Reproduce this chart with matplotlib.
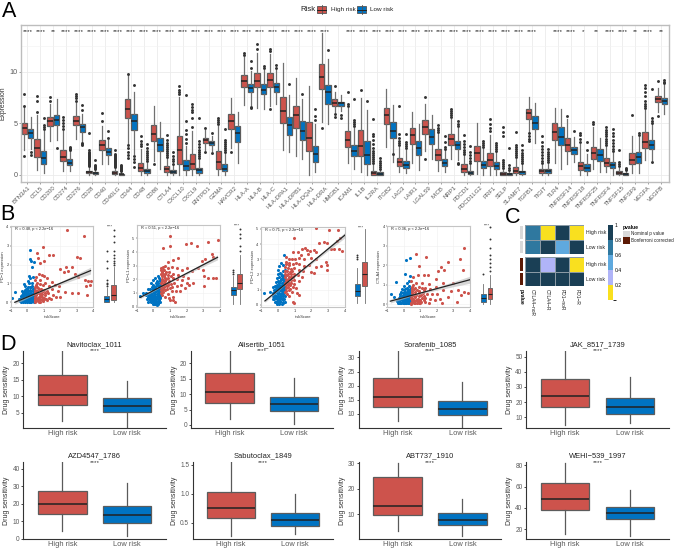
import numpy as np
import matplotlib
matplotlib.use("Agg")
import matplotlib.pyplot as plt
from matplotlib.colors import ListedColormap, BoundaryNorm
from matplotlib.patches import Rectangle
from matplotlib.lines import Line2D
from matplotlib.cm import ScalarMappable

plt.rcParams["font.family"] = ["Liberation Sans", "DejaVu Sans"]

W, H = 676, 549
RED = "#CD534C"
BLUE = "#0073C2"
GREY_TXT = "#5A5A5A"

# ---- panel A ----
genes = ["BTN3A1", "CCL5", "CD200", "CD274", "CD276", "CD28", "CD40", "CD40LG", "CD44", "CD48",
         "CD86", "CTLA4", "CXCL10", "CXCL9", "ENTPD1", "GZMA", "HAVCR2", "HLA-A", "HLA-B", "HLA-C",
         "HLA-DPA1", "HLA-DPB1", "HLA-DQA1", "HLA-DRA", "HMGB1", "ICAM1", "IL1B", "IL2RA", "ITGB2", "LAG3",
         "LAIR1", "LGALS9", "MICB", "NRP1", "PDCD1", "PDCD1LG2", "PRF1", "SELP", "SLAMF7", "TGFB1",
         "TIGIT", "TLR4", "TNFRSF14", "TNFRSF18", "TNFRSF25", "TNFRSF4", "TNFSF15", "TNFSF9", "VEGFA", "VEGFB"]
signif = ["****", "****", "**", "****", "****", "****", "****", "****", "****", "****",
          "****", "****", "****", "****", "****", "****", "****", "****", "****", "****",
          "****", "****", "****", "****", "", "****", "****", "****", "****", "****",
          "****", "****", "****", "****", "****", "****", "****", "****", "****", "****",
          "", "****", "****", "*", "**", "****", "****", "**", "****", "**"]

# q1, median, q3, whisker low, whisker high
high_box = [(3.9, 4.5, 5.0, 2.4, 6.6), (1.7, 2.6, 3.5, 0.4, 5.8), (4.7, 5.2, 5.6, 3.3, 6.9), (1.3, 1.7, 2.4, 0.3, 4.2),
            (4.8, 5.2, 5.7, 3.5, 7.0), (0.1, 0.2, 0.35, 0, 0.7), (2.4, 2.9, 3.4, 1.0, 4.7), (0.05, 0.15, 0.3, 0, 0.6),
            (5.5, 6.4, 7.3, 3.0, 9.7), (0.3, 0.6, 1.15, 0, 2.5), (3.3, 3.95, 4.8, 1.3, 6.7), (0.2, 0.5, 0.8, 0, 1.6),
            (1.05, 2.4, 3.75, 0, 7.5), (0.5, 1.0, 2.0, 0, 4.2), (3.1, 3.4, 3.6, 2.4, 4.3), (0.5, 1.2, 2.25, 0, 4.7),
            (4.4, 5.2, 5.9, 2.6, 7.4), (8.5, 9.1, 9.7, 6.8, 11.4), (8.5, 9.1, 9.9, 6.5, 11.8), (8.5, 9.2, 9.9, 6.7, 11.7),
            (5.0, 6.2, 7.5, 2.4, 10.9), (4.5, 5.8, 6.7, 1.8, 9.4), (2.3, 3.6, 5.1, 0, 8.6), (8.35, 9.5, 10.8, 5.1, 13.8),
            (6.7, 7.0, 7.3, 6.1, 8.0), (2.7, 3.35, 4.2, 1.1, 6.5), (1.8, 2.8, 4.3, 0.25, 7.4), (0, 0.15, 0.35, 0, 1.0),
            (4.9, 5.75, 6.5, 2.7, 8.3), (0.85, 1.2, 1.6, 0.2, 2.7), (3.0, 3.85, 4.5, 1.1, 6.1), (3.9, 4.65, 5.3, 2.3, 6.85),
            (1.4, 1.9, 2.45, 0.35, 4.0), (2.9, 3.45, 3.9, 1.5, 5.4), (0.2, 0.5, 1.0, 0, 1.9), (1.3, 2.05, 2.8, 0.03, 5.0),
            (0.85, 1.4, 2.1, 0, 3.8), (0, 0.08, 0.2, 0, 0.4), (0.1, 0.35, 0.7, 0, 1.55), (5.45, 5.95, 6.35, 4.15, 7.5),
            (0.13, 0.3, 0.5, 0, 0.9), (3.4, 4.15, 5.0, 1.1, 6.5), (2.25, 2.85, 3.6, 1.05, 5.45), (0.4, 0.85, 1.25, 0, 3.0),
            (1.5, 2.1, 2.7, 0.5, 4.6), (0.8, 1.15, 1.65, 0.25, 2.7), (0.03, 0.15, 0.3, 0, 0.65), (1.0, 1.45, 2.05, 0.1, 3.7),
            (2.6, 3.2, 4.1, 1.4, 6.25), (7.05, 7.35, 7.6, 6.1, 8.4)]
low_box = [(3.6, 4.0, 4.4, 2.5, 5.6), (1.05, 1.6, 2.3, 0.1, 4.2), (4.8, 5.3, 5.8, 3.4, 7.3), (0.9, 1.15, 1.5, 0.3, 2.3),
           (4.1, 4.6, 4.9, 3.2, 5.9), (0.05, 0.12, 0.2, 0, 0.4), (1.9, 2.2, 2.6, 1.0, 3.4), (0, 0.03, 0.08, 0, 0.2),
           (4.3, 5.2, 5.9, 2.0, 8.0), (0.1, 0.3, 0.55, 0, 1.1), (2.3, 2.9, 3.6, 0.5, 5.1), (0.1, 0.25, 0.45, 0, 0.9),
           (0.4, 0.8, 1.4, 0, 2.8), (0.15, 0.4, 0.65, 0, 1.4), (2.85, 3.1, 3.3, 2.3, 3.7), (0.3, 0.55, 1.05, 0, 2.1),
           (3.2, 4.0, 4.7, 1.1, 6.1), (8.0, 8.4, 8.8, 6.8, 10.1), (7.8, 8.25, 8.8, 6.4, 10.2), (8.0, 8.5, 8.9, 6.9, 10.2),
           (3.8, 4.8, 5.6, 2.2, 7.7), (3.4, 4.2, 5.2, 1.5, 7.3), (1.2, 2.0, 2.8, 0.2, 4.9), (6.9, 8.0, 8.7, 4.9, 11.2),
           (6.7, 6.95, 7.1, 6.2, 7.7), (1.8, 2.3, 2.9, 0.5, 4.5), (1.0, 1.9, 3.3, 0, 6.3), (0, 0.07, 0.2, 0, 0.4),
           (3.6, 4.2, 5.15, 1.2, 6.75), (0.65, 0.95, 1.3, 0.15, 2.4), (1.9, 2.55, 3.3, 0.4, 4.9), (3.0, 3.65, 4.4, 1.55, 5.8),
           (0.85, 1.15, 1.5, 0.25, 2.4), (2.5, 2.9, 3.3, 1.4, 4.5), (0.03, 0.15, 0.35, 0, 0.9), (0.6, 0.95, 1.35, 0, 2.5),
           (0.55, 0.85, 1.2, 0, 2.2), (0, 0.05, 0.12, 0, 0.3), (0.03, 0.2, 0.35, 0, 1.05), (4.4, 5.05, 5.7, 3.1, 7.0),
           (0.13, 0.3, 0.55, 0, 1.05), (2.9, 3.65, 4.6, 0.5, 6.4), (2.0, 2.35, 2.7, 1.2, 3.65), (0.3, 0.65, 1.05, 0, 2.0),
           (1.35, 1.9, 2.5, 0.25, 3.6), (0.6, 0.9, 1.2, 0, 2.1), (0, 0.07, 0.15, 0, 0.25), (1.15, 1.7, 2.15, 0.15, 3.65),
           (2.5, 2.9, 3.4, 1.45, 4.9), (6.85, 7.15, 7.45, 5.9, 8.7)]
high_out = [[1.8, 6.7, 7.8], [6.1, 7.2, 7.6], [7.2, 7.5], [4.4, 4.7, 5.0, 5.3, 5.6],
            [7.2, 7.4, 7.6, 7.8], [0.8, 0.9, 1.0, 1.1, 1.2, 1.3, 1.4, 1.5, 1.6, 1.7, 1.8, 1.9, 2.0, 2.1, 2.2, 2.4, 4.0], [5.2, 6.0],
            [0.7, 0.8, 0.9, 1.0, 1.1, 1.2, 1.3, 1.4, 1.5, 1.6, 1.7, 1.8, 1.9, 2.0, 2.4],
            [1.6, 1.9, 2.2, 2.6, 2.9, 9.8], [2.8, 3.0, 3.3, 3.7], [1.05], [1.7, 1.9, 2.1, 2.3, 2.5, 2.7, 2.9, 3.1, 3.4, 3.8],
            [7.8, 8.0, 8.2, 8.6], [4.6, 5.5, 6.1, 6.3, 6.6, 6.9], [2.2, 4.5], [4.9, 5.1, 5.3, 5.5],
            [2.2], [11.6, 11.8], [12.2, 12.7], [6.4, 12.0, 12.2],
            [], [], [], [4.5],
            [5.6, 5.9, 8.6], [6.7, 6.9, 8.0], [8.2], [1.1, 1.3, 1.5, 1.7, 1.9, 2.1, 2.3, 2.6, 3.0, 3.4, 3.7, 3.9, 5.4],
            [], [2.9, 3.1, 3.3, 3.6, 3.9, 6.7], [], [1.5, 7.5],
            [4.1, 4.3, 4.5, 4.8], [5.6, 5.8, 6.0, 6.2, 6.4], [2.0, 2.2, 2.4, 2.7, 3.0, 3.3, 3.8], [],
            [4.2, 4.5, 4.9, 5.4], [0.6, 0.8, 1.0, 1.2, 1.4, 3.7, 4.1, 4.6], [1.7, 1.9, 2.1, 2.3, 2.5, 2.7, 2.9, 4.1], [3.3, 3.5, 3.7, 4.0],
            [1.1, 1.3, 1.6, 1.9, 2.2, 2.5, 2.8, 3.2, 3.7], [], [5.7], [3.2, 3.5, 3.8, 4.0],
            [4.9, 5.1], [2.9, 3.1, 3.3, 3.5, 3.7, 3.9, 4.1, 4.3, 4.6], [0.8, 1.0, 1.2, 2.4], [5.8],
            [6.5, 6.7, 6.9, 7.2, 7.6, 8.0, 8.4, 8.7], [5.7, 9.1]]
low_out = [[1.9, 2.2], [4.4, 4.6, 4.8, 5.5], [2.6], [2.4, 2.5, 2.6, 2.7],
           [2.9, 3.0, 3.1, 6.3, 6.8], [0.5, 0.6, 0.7, 0.8, 0.9, 1.4], [3.6, 4.2], [0.3, 0.4, 0.5, 0.6, 0.7, 0.8, 0.9],
           [0.7, 1.2, 1.5, 1.8, 8.7], [1.3, 1.5, 1.7, 1.9, 2.1, 2.3, 2.6, 3.0], [], [1.0, 1.3, 1.5, 1.8, 2.2],
           [3.1, 3.5, 3.9, 4.3, 5.2, 7.7], [1.6, 1.8, 2.0, 2.2, 2.4, 2.7, 3.0, 3.3, 5.5], [2.1, 4.0], [2.2, 2.4, 2.6, 2.8, 3.0, 3.2, 3.4, 4.4],
           [], [6.5, 6.6, 10.4, 11.0], [10.4, 10.6], [10.4, 10.7],
           [8.8], [7.8], [5.3, 5.7, 6.4], [12.1],
           [5.5, 5.8], [4.7, 4.9, 5.1, 5.3, 7.3], [7.2], [0.5, 0.7, 0.9, 1.1, 1.3, 1.6],
           [1.95], [2.6, 2.8, 3.0, 3.2, 3.9], [], [],
           [2.5, 2.7, 3.2, 3.7], [1.0, 1.1, 4.7, 4.9, 5.2], [1.1, 1.3, 1.6, 1.9, 2.2, 2.8], [2.7, 2.9, 3.1, 3.3],
           [2.3, 2.5, 2.7, 2.9, 3.1], [0.4, 0.6, 0.9, 2.6], [1.1, 1.3, 1.5, 1.7, 1.9, 2.1, 2.4, 2.9], [],
           [1.2, 1.4, 1.6, 1.8, 2.0, 2.2, 2.5], [], [4.25], [2.4, 3.2],
           [], [2.3, 2.5, 2.8, 3.1, 3.4, 3.7, 4.0, 4.4], [0.4, 0.5, 0.65], [3.8, 4.05],
           [1.2, 5.0, 5.2, 5.5, 8.3], [8.9, 9.0, 9.2]]

# ---- panel B ----
b_names = ["PD\u22121 expression", "PD\u2212L1 expression", "PD\u2212L2 expression", "CTLA4 expression"]
b_stats = ["R = 0.48, p < 2.2e\u221216", "R = 0.51, p < 2.2e\u221216", "R = 0.71, p < 2.2e\u221216", "R = 0.36, p < 2.2e\u221216"]
b_yticks = [[0, 1, 2, 3, 4], [0, 1, 2, 3, 4, 5], [0, 1, 2, 3, 4, 5], [0, 1, 2, 3, 4]]

pd1_low = [(-.75, .55), (-.9, .25), (.15, 2.75), (.25, 2.2), (.2, 2.3), (.4, 2.15), (.3, 1.85), (.1, 1.4), (.2, 1.3), (.05, 1.15),
           (.35, 1.35), (-.2, .95), (-.15, .85), (.1, 1), (.3, 1), (.25, .8), (.05, .8), (-.1, .7), (-.3, .6), (-.2, .55),
           (0, .6), (.15, .65), (.35, .7), (-.4, .35), (-.3, .4), (-.2, .3), (-.1, .4), (0, .45), (.1, .4), (.2, .5),
           (.3, .45), (.4, .5), (-.5, .15), (-.4, .1), (-.3, .2), (-.2, .1), (-.1, .15), (0, .2), (.1, .25), (.2, .2),
           (.3, .25), (.4, .3), (-.35, .02), (-.25, .02), (-.15, .02), (-.05, .05), (.05, .05), (.15, .03), (.25, .05),
           (.35, .08), (.4, .12), (-.1, .28), (.05, .32), (.2, .33), (.35, .18), (-.28, .3), (.12, .12), (.28, .12), (-.02, .1),
           (-.45, .05), (-.38, .22), (-.32, .1), (-.27, .4), (-.22, .2), (-.17, .45), (-.12, .05), (-.07, .22), (-.03, .35),
           (.02, .12), (.07, .5), (.11, .33), (.17, .1), (.22, .42), (.27, .28), (.31, .05), (.33, .38), (.37, .58), (.4, .2),
           (.43, .42), (.16, .42), (.26, .6), (-.06, .5), (.08, .62), (.02, .72), (.18, .8), (.32, .85), (-.15, .65), (-.25, .48),
           (.43, .02), (.24, .02), (.38, .32), (-.02, .02), (.1, .02), (.41, .75), (.44, .62)]
pd1_high = [(2.4, 3.85), (3.45, 3.5), (.95, 2.95), (1.0, 2.2), (.6, 2.6), (.65, 2.35), (.8, 2.1), (1.3, 2.5), (1.6, 2.5),
            (3.05, 2.4), (3.2, 2.35), (2.35, 1.9), (2.75, 1.9), (2.0, 1.75), (2.25, 1.6), (2.5, 1.65), (2.9, 1.5), (3.1, 1.35),
            (3.5, 1.2), (3.7, 1.15), (3.85, 1.15), (3.6, .85), (3.8, .9), (3.65, .4), (3.1, .5), (2.75, .5), (2.3, .55),
            (1.9, .6), (1.95, .85), (1.7, .9), (1.5, 1.1), (1.2, 1.3), (1.0, 1.4), (.9, 1.45), (.7, 1.5), (.55, 1.35), (.5, 1.2),
            (.8, 1.2), (1.1, 1.0), (.6, 1.0), (.75, .95), (.95, .9), (1.3, .85), (1.5, .7), (.5, .8), (.65, .75), (.85, .7),
            (1.05, .65), (1.25, .5), (1.55, .4), (1.75, .3), (2.0, .3), (.5, .55), (.7, .5), (.9, .45), (1.1, .4), (1.3, .25),
            (.5, .3), (.65, .25), (.8, .2), (1.0, .15), (1.2, .1), (.5, .1), (.65, .05), (.8, .02), (.95, .05), (.55, .4),
            (.75, .35), (.45, .2), (.45, .45), (.45, .05), (.6, .15), (.85, .35), (1.45, .15),
            (.48, .65), (.55, .22), (.58, .48), (.62, .62), (.68, .12), (.72, .28), (.78, .42), (.82, .55), (.88, .1), (.92, .28),
            (.97, .58), (1.02, .25), (1.08, .48), (1.15, .18), (1.18, .62), (.52, .92), (.6, .82), (.7, .68), (.48, .02), (.72, .02)]
pdl1_low = [(-.8, .75), (-.65, .95), (-.45, 1.0), (-.3, 1.3), (-.15, 1.7), (-.05, 1.95), (.1, 2.05), (.25, 2.2), (.35, 2.1), (.4, 1.95),
            (.2, 1.85), (0, 1.6), (.15, 1.5), (.3, 1.7), (.42, 1.6), (-.2, 1.25), (-.1, 1.4), (.05, 1.3), (.2, 1.25), (.35, 1.35),
            (.42, 1.25), (-.45, .8), (-.3, .9), (-.2, 1.0), (-.05, 1.1), (.1, 1.05), (.25, 1.0), (.4, 1.0), (-.25, .7), (-.1, .8),
            (.05, .85), (.2, .75), (.35, .75), (-.4, .55), (-.2, .5), (0, .6), (.15, .55), (.3, .55), (.42, .7), (-.15, .3),
            (0, .35), (.1, .3), (.25, .35), (.35, .4), (-.05, .15), (.1, .15), (.2, .1), (.3, .2), (-.3, .35), (.05, .95), (.3, .85),
            (-.35, .7), (-.28, .55), (-.22, .85), (-.15, .6), (-.12, 1.0), (-.08, .5), (-.03, .75), (.0, 1.2), (.03, .45), (.07, .7),
            (.1, .9), (.12, 1.45), (.17, 1.15), (.18, .4), (.22, .65), (.23, 1.6), (.27, .9), (.28, 1.15), (.32, .45), (.33, 1.5),
            (.37, .95), (.38, 1.85), (.4, .6), (.42, 1.1), (.43, 1.45), (.44, .85), (.13, 1.75), (.05, 1.45), (-.05, 1.3), (-.12, .7),
            (.26, .25), (.15, .2), (.05, .2), (.4, .3), (.34, 1.2), (.12, .6)]
pdl1_high = [(1.0, 5.2), (.55, 4.3), (1.0, 4.4), (1.95, 4.6), (2.25, 4.65), (2.6, 4.4), (3.25, 4.75), (3.85, 4.9), (3.5, 3.85), (3.6, 3.6),
             (3.1, 3.5), (2.9, 3.3), (2.7, 2.8), (3.0, 2.65), (3.05, 2.25), (3.3, 2.05), (3.6, 2.05), (3.75, 2.05), (3.05, 1.5), (2.35, 1.75),
             (2.0, 1.7), (1.65, 1.6), (1.4, 1.5), (1.2, .5), (.95, .6), (1.0, .45), (1.3, .3), (1.15, .65), (.5, .8), (.7, .7),
             (.9, .9), (1.1, 1.1), (1.35, 1.15), (1.6, 1.15), (1.9, 1.35), (2.15, 1.55), (1.45, 3.55), (1.2, 3.4), (.85, 3.25), (.7, 2.95),
             (.55, 2.9), (.45, 2.8), (.65, 2.7), (.9, 2.85), (1.1, 2.9), (1.4, 2.85), (1.7, 2.7), (2.0, 2.8), (2.3, 2.6), (.5, 2.55),
             (.7, 2.4), (.95, 2.5), (1.2, 2.4), (1.5, 2.3), (1.8, 2.25), (2.1, 2.1), (.5, 2.2), (.7, 2.1), (.9, 2.1), (1.15, 2.05),
             (1.4, 2.0), (1.7, 1.95), (.5, 1.85), (.65, 1.75), (.85, 1.7), (1.05, 1.65), (1.25, 1.7), (.5, 1.5), (.65, 1.4), (.8, 1.3),
             (1.0, 1.35), (.45, 1.2), (.55, 1.05), (.45, 1.7), (.45, 2.4), (.55, 1.6), (.75, 1.55), (.45, 1.0),
             (.48, 1.45), (.5, 1.05), (.52, 2.0), (.55, 1.3), (.58, 2.35), (.6, 1.9), (.63, 1.55), (.66, 2.25), (.7, 1.85), (.72, 1.2),
             (.75, 2.55), (.78, 2.0), (.82, 1.5), (.85, 2.3), (.9, 1.55), (.95, 1.85), (.48, 2.65), (.58, 2.7), (1.1, 1.45), (1.05, 2.25)]
pdl2_low = [(-.8, .75), (-.45, .85), (-.25, 1.15), (-.1, 1.5), (0, 2.0), (.05, 2.3), (.1, 2.55), (.2, 2.75), (.3, 2.6), (.38, 3.25),
            (.15, 2.1), (.3, 2.2), (.42, 2.3), (.1, 1.8), (.25, 1.9), (.4, 1.95), (-.05, 1.75), (0, 1.55), (.15, 1.55), (.3, 1.6),
            (.42, 1.6), (-.15, 1.25), (-.05, 1.3), (.1, 1.3), (.25, 1.3), (.4, 1.3), (-.2, 1.0), (-.1, 1.05), (.05, 1.05), (.2, 1.05),
            (.35, 1.05), (.42, 1.0), (-.3, .8), (-.2, .75), (-.05, .8), (.1, .8), (.25, .8), (.4, .75), (-.25, .55), (-.1, .55),
            (.05, .6), (.2, .55), (.35, .55), (-.2, .35), (-.05, .35), (.1, .35), (.25, .35), (.4, .4), (-.15, .18), (0, .2),
            (.15, .15), (.3, .2), (-.05, .05), (.1, .05), (.25, .08),
            (-.28, .4), (-.22, .65), (-.18, .9), (-.15, .5), (-.12, .2), (-.08, .9), (-.07, 1.15), (-.03, .45), (0, .7), (.02, .95),
            (.03, 1.2), (.04, .25), (.07, 1.45), (.08, .5), (.12, .7), (.13, .95), (.14, 1.2), (.17, .25), (.18, 1.7), (.22, .45),
            (.23, .68), (.24, .93), (.27, 1.18), (.28, 1.45), (.32, .1), (.33, .4), (.34, .68), (.37, .9), (.38, 1.2), (.39, 1.5),
            (.42, .18), (.43, .6), (.44, .88), (.44, 1.15), (.44, 1.8), (.2, 2.0), (.35, 1.75)]
pdl2_high = [(2.3, 5.05), (3.05, 4.95), (3.6, 4.9), (1.0, 4.4), (2.45, 4.05), (2.75, 4.15), (2.95, 4.1), (3.5, 4.2), (3.7, 4.4), (1.45, 3.7),
             (1.65, 3.75), (1.75, 3.6), (1.9, 3.55), (2.15, 3.6), (2.3, 3.45), (3.15, 3.65), (3.35, 3.7), (3.65, 3.65), (3.85, 3.55), (1.4, 3.3),
             (1.8, 3.35), (2.0, 3.1), (.9, 3.5), (1.2, 3.45), (1.3, 3.1), (1.55, 3.0), (2.3, 3.0), (2.9, 2.85), (.5, 3.15), (.65, 3.05),
             (.85, 3.0), (1.05, 3.05), (.5, 2.85), (.7, 2.75), (.9, 2.7), (1.1, 2.75), (1.3, 2.7), (1.55, 2.55), (1.85, 2.65), (2.3, 2.5),
             (2.6, 2.55), (2.95, 2.6), (2.95, 2.3), (.45, 2.5), (.6, 2.4), (.8, 2.35), (1.0, 2.4), (1.25, 2.3), (1.5, 2.2), (2.0, 2.15),
             (2.15, 2.1), (.45, 2.2), (.6, 2.05), (.8, 2.0), (1.0, 2.05), (1.2, 1.95), (1.45, 1.85), (.45, 1.8), (.6, 1.7), (.8, 1.65),
             (1.0, 1.6), (1.25, 1.55), (.45, 1.45), (.6, 1.35), (.75, 1.3), (.9, 1.2), (1.1, 1.1), (.5, 1.1), (.65, .95), (.85, .85),
             (1.15, .75), (1.3, .65), (.9, .15), (.95, .1), (.55, .7), (.7, .55),
             (.47, 2.05), (.48, 1.65), (.5, 1.3), (.5, 2.7), (.52, .9), (.55, 1.95), (.56, 1.5), (.58, 2.25), (.62, 1.15), (.65, 1.85),
             (.68, 2.6), (.7, 1.45), (.72, 2.15), (.75, 1.05), (.78, 1.85), (.8, 1.45), (.85, 2.2), (.9, 1.85), (.95, 1.4), (.47, .85)]
ctla4_low = [(.38, 2.36), (.15, 2.25), (.1, 1.55), (-.45, 1.15), (-.75, .5), (-.6, .35), (.4, 1.45), (.35, 1.2), (.2, 1.1), (.05, .95),
             (.3, .95), (.42, .85), (-.1, .75), (.1, .75), (.25, .7), (.4, .65), (-.2, .5), (-.05, .55), (.1, .5), (.3, .5),
             (.42, .45), (-.3, .3), (-.15, .3), (0, .35), (.15, .3), (.3, .3), (.42, .25), (-.4, .15), (-.25, .15), (-.1, .12),
             (.05, .15), (.2, .15), (.35, .12), (-.3, .03), (-.15, .03), (0, .03), (.15, .03), (.3, .03), (.42, .05), (.22, .6), (-.02, .22),
             (-.35, .08), (-.28, .22), (-.22, .08), (-.2, .4), (-.12, .22), (-.08, .42), (-.05, .08), (.02, .28), (.03, .45), (.07, .08),
             (.08, .62), (.12, .22), (.13, .4), (.17, .08), (.18, .5), (.22, .25), (.23, .4), (.27, .08), (.27, .6), (.32, .22),
             (.33, .42), (.37, .03), (.37, .32), (.38, .55), (.4, .75), (.43, .15), (.44, .35), (.44, .58), (.2, .82), (.33, .72),
             (-.15, .62), (0, .72)]
ctla4_high = [(.75, 2.55), (1.35, 2.4), (.95, 1.93), (3.65, 2.9), (3.4, 2.3), (3.6, 1.75), (2.65, 2.15), (2.25, 1.9), (2.45, 1.75), (2.05, 1.7),
              (2.95, 1.1), (2.35, 1.1), (1.95, 1.3), (1.45, 1.5), (1.2, 1.5), (.85, 1.5), (.55, 1.4), (.45, 1.2), (.75, 1.1), (1.1, 1.1),
              (1.55, 1.05), (1.95, .9), (2.35, .7), (2.85, .65), (3.25, .7), (3.65, .6), (3.85, .55), (3.45, .45), (.5, .9), (.7, .85),
              (.9, .9), (1.1, .85), (1.3, .8), (1.6, .75), (.5, .65), (.7, .6), (.95, .65), (1.15, .55), (1.4, .5), (1.7, .5),
              (2.0, .5), (.5, .4), (.7, .35), (.9, .4), (1.1, .3), (1.3, .3), (1.6, .25), (1.9, .2), (2.2, .25), (.5, .2),
              (.65, .15), (.85, .15), (1.05, .1), (1.3, .1), (1.55, .05), (.45, .05), (.6, .03), (.8, .03), (1.0, .03), (2.65, .35),
              (3.2, .1), (2.3, .05), (1.2, .7),
              (.47, .3), (.48, .55), (.5, .75), (.53, .12), (.57, .28), (.6, .48), (.62, .75), (.67, .08), (.72, .22), (.77, .48),
              (.8, .7), (.85, .28), (.9, .55), (.95, .08), (1.0, .2), (1.02, .48), (1.2, .4), (1.25, .2), (.47, .02), (.55, .98)]
b_low = [pd1_low, pdl1_low, pdl2_low, ctla4_low]
b_high = [pd1_high, pdl1_high, pdl2_high, ctla4_high]

# fitted line, with its grey band half width
fit_x = [[-.75, 3.85], [-.8, 3.85], [-.75, 4.0], [-.8, 4.0]]
fit_y = [[0.0, 1.68], [.65, 3.6], [.25, 4.6], [.15, 1.25]]
band_x = [-.8, .5, 2.0, 4.0]
band_half = [.1, .03, .08, .18]

# marginal boxes: q1, median, q3, whisker low, whisker high
m_low = [(0, .2, .35, 0, .75), (.85, 1.2, 1.45, .15, 2.25), (.55, .9, 1.4, .1, 2.4), (.12, .3, .52, 0, 1.05)]
m_high = [(.1, .4, .9, 0, 1.9), (1.3, 1.75, 2.35, .2, 3.8), (1.25, 2.05, 2.8, .1, 5.0), (.25, .5, .85, 0, 1.5)]
m_low_out = [[.85, .95, 1.0, 1.2, 1.8, 2.2, 2.7], [2.4, 2.55, 2.7], [3.0, 3.15, 3.25], [1.55]]
m_high_out = [[2.0, 2.1, 2.2, 2.35, 2.5, 2.7, 3.2, 3.5, 3.85], [4.1, 4.45, 5.05, 5.3, 5.7], [], [1.7, 1.9, 2.1, 2.3, 2.5, 2.9, 3.35, 3.95]]

# ---- panel C ----
c_cols = ["CTLA4\u2212noR", "CTLA4\u2212R", "PD1\u2212noR", "PD1\u2212R"]
c_rows = ["High risk", "Low risk"]
c_nominal = [[.7, .1, .9, .1], [.7, .9, .5, .9]]
c_bonf = [[.9, .3, .9, .1], [.9, .9, .9, .9]]
c_colors = ["#F9E01F", "#B0B4F8", "#5FA9DE", "#2F789F", "#1A3F55"]
c_levels = [0, .2, .4, .6, .8, 1]

# ---- panel D ----
drugs = ["Navitoclax_1011", "Alisertib_1051", "Sorafenib_1085", "JAK_8517_1739",
         "AZD4547_1786", "Sabutoclax_1849", "ABT737_1910", "WEHI\u2212539_1997"]
d_high = [(7.2, 10.5, 16.4, 2.5, 23.7), (7.1, 10.8, 17, 1.8, 24), (12.3, 16, 22.7, 7.5, 32.3), (16.6, 24.3, 35.2, 5, 53.7),
          (14, 20, 27.5, 4.5, 43.7), (.585, .75, 1.03, .27, 1.546), (9.7, 13.2, 24.5, 3.3, 30), (38.5, 48.8, 63, 15.5, 82)]
d_low = [(5.3, 6.9, 9.4, .6, 14.7), (4.5, 6.8, 9.1, .3, 15.3), (9.6, 11.7, 14.4, 5.3, 21.4), (12.4, 16.5, 22.5, 5.9, 36.8),
         (9.2, 13.7, 18.5, 1.5, 32), (.45, .55, .675, .31, 1.0), (5.9, 7.8, 10.4, 1.4, 15.9), (30, 35.5, 40.5, 14, 56.5)]
d_ylim = [(.45, 23.75), (-.9, 24), (5.1, 32.3), (3.1, 53.7), (-.2, 43.7), (.217, 1.546), (.33, 30.4), (10.9, 82.8)]
d_yticks = [[5, 10, 15, 20], [0, 5, 10, 15, 20], [10, 15, 20, 25, 30], [10, 20, 30, 40, 50],
            [0, 10, 20, 30, 40], [.5, 1.0, 1.5], [10, 20, 30], [20, 40, 60, 80]]
d_ylabels = [None, None, None, None, None, ["0.5", "1.0", "1.5"], None, None]
d_left = [23.3, 190.7, 358.7, 526, 23.3, 192.7, 358.7, 526]
d_right = [166, 333, 501.3, 669, 166, 333, 501.3, 669]
d_top = [351, 351, 351, 351, 462.3, 462.3, 462.3, 462.3]
d_bottom = [427.7, 427.7, 427.7, 427.7, 539, 539, 539, 539]

fig = plt.figure(figsize=(W / 100, H / 100), dpi=100)


def axes_px(left, top, right, bottom):
    return fig.add_axes([left / W, 1 - bottom / H, (right - left) / W, (bottom - top) / H])


def stat(row, fliers=()):
    q1, med, q3, lo, hi = row
    return dict(q1=q1, med=med, q3=q3, whislo=lo, whishi=hi, fliers=list(fliers))


def boxes(ax, stats, pos, color, width, lw=.8, ms=2.1, edge="#5C5C5C", whisker="#707070"):
    ax.bxp(stats, positions=pos, widths=width, patch_artist=True, manage_ticks=False,
           showcaps=False, boxprops=dict(facecolor=color, edgecolor=edge, linewidth=lw),
           medianprops=dict(color="#222222", linewidth=lw + .2),
           whiskerprops=dict(color=whisker, linewidth=lw),
           flierprops=dict(marker="o", markersize=ms, markerfacecolor="#333333",
                           markeredgecolor="#333333", markeredgewidth=0))


def panel_letter(txt, x, y):
    fig.text(x / W, 1 - y / H, txt, fontsize=15.5, ha="left", va="baseline", color="black")


panel_letter("A", 2, 17)
panel_letter("B", 0, 220)
panel_letter("C", 505, 223)
panel_letter("D", 0, 350)

# panel A
ax = axes_px(21, 25, 669, 181.7)
pos = np.arange(1, len(genes) + 1)
boxes(ax, [stat(r, o) for r, o in zip(high_box, high_out)], pos - .25, RED, .42, lw=.9)
boxes(ax, [stat(r, o) for r, o in zip(low_box, low_out)], pos + .25, BLUE, .42, lw=.9)
ax.set_xlim(.5, 50.6)
ax.set_ylim(-.7, 14.55)
ax.set_yticks([0, 5, 10])
ax.set_yticks([2.5, 7.5, 12.5], minor=True)
ax.set_xticks(pos)
ax.set_xticklabels(genes, rotation=45, ha="right", rotation_mode="anchor", fontsize=4.3, color=GREY_TXT)
ax.tick_params(axis="y", labelsize=5.2, labelcolor=GREY_TXT, length=1.5, width=.4, pad=1, color="#555555")
ax.tick_params(axis="y", which="minor", length=0)
ax.tick_params(axis="x", length=1.5, width=.4, pad=1, color="#555555")
ax.set_ylabel("Expression", fontsize=4.9, color="#333333", labelpad=2)
ax.grid(True, which="major", color="#EBEBEB", lw=.6)
ax.grid(True, which="minor", axis="y", color="#F2F2F2", lw=.4)
ax.set_axisbelow(True)
for s in ax.spines.values():
    s.set_color("#BDBDBD")
    s.set_linewidth(1)
for p, lab in zip(pos, signif):
    ax.text(p, 13.95, lab, ha="center", va="center", fontsize=4.6, color="#222222")

# legend of panel A
fig.text(300 / W, 1 - 9.5 / H, "Risk", fontsize=5.6, va="center", color="#222222")
for x0, col, lab, tx in [(317, RED, "High risk", 331), (357, BLUE, "Low risk", 370)]:
    fig.add_artist(Line2D([(x0 + 4.5) / W] * 2, [1 - 5 / H, 1 - 14 / H], color="#555555", lw=.6))
    fig.add_artist(Rectangle((x0 / W, 1 - 12.5 / H), 9 / W, 6 / H, facecolor=col, edgecolor="#555555",
                             lw=.6, transform=fig.transFigure))
    fig.add_artist(Line2D([x0 / W, (x0 + 9) / W], [1 - 9.5 / H] * 2, color="#222222", lw=.7))
    fig.text(tx / W, 1 - 9.5 / H, lab, fontsize=4.6, va="center", color="#222222")

# panel B
b_frames = [(10.7, 226, 93, 307), (136.7, 225, 220, 307), (260.7, 227, 345, 307), (387, 225.7, 470, 307)]
b_ylims = [(-.25, 4.05), (-.05, 5.98), (-.15, 5.13), (-.15, 4.02)]
b_boxc = [(106.7, 113.7), (233.3, 239.7), (357.3, 364.7), (483.3, 490)]
for i in range(4):
    l, t, r, b = b_frames[i]
    ax = axes_px(l, t, r, b)
    lo = np.array(b_low[i]).T
    hi = np.array(b_high[i]).T
    ax.scatter(lo[0], lo[1], s=5, color=BLUE, marker="o", linewidths=0, zorder=2)
    ax.scatter(hi[0], hi[1], s=5, color=RED, marker="o", linewidths=0, zorder=2)
    fx = np.array(fit_x[i])
    fy = np.array(fit_y[i])
    line = np.interp(band_x, fx, fy)
    ax.fill_between(np.clip(band_x, fx[0], fx[1]), line - band_half, line + band_half, color="#BBBBBB", alpha=.6, lw=0, zorder=3)
    ax.plot(fx, fy, color="#222222", lw=.9, zorder=4)
    ax.set_xlim(-1, 4)
    ax.set_ylim(*b_ylims[i])
    ax.set_xticks([-1, 0, 1, 2, 3, 4])
    ax.set_yticks(b_yticks[i])
    ax.tick_params(labelsize=2.8, length=1, width=.3, pad=.6, labelcolor="#333333")
    ax.set_xlabel("riskScore", fontsize=2.9, labelpad=1.2, color="#333333")
    ax.set_ylabel(b_names[i], fontsize=2.9, labelpad=1, color="#333333")
    ax.grid(True, color="#EFEFEF", lw=.4)
    ax.set_axisbelow(True)
    for s in ax.spines.values():
        s.set_color("#C4C4C4")
        s.set_linewidth(.8)
    ax.text(.05, .965, b_stats[i], transform=ax.transAxes, fontsize=2.8, va="center", color="#222222")

    c0, c1 = b_boxc[i]
    m = axes_px(c0 - (c1 - c0) * .6, t, c1 + (c1 - c0) * .6, b)
    boxes(m, [stat(m_low[i], m_low_out[i])], [1], BLUE, .7, lw=.6, ms=1.4)
    boxes(m, [stat(m_high[i], m_high_out[i])], [2], RED, .7, lw=.6, ms=1.4)
    m.set_xlim(.4, 2.6)
    m.set_ylim(*b_ylims[i])
    m.axis("off")
    m.text(1.5, b_ylims[i][1] * .995, "****", fontsize=2.8, ha="center", va="center", color="#333333")

# panel C
cmap = ListedColormap(c_colors)
norm = BoundaryNorm(c_levels, cmap.N)
c_ann = ListedColormap(["#D9D9D9", "#5C1A05"])
for vals, t, b, k in [(c_nominal, 225, 254.3, 0), (c_bonf, 257.3, 286, 1)]:
    ax = axes_px(525, t, 584.3, b)
    ax.pcolormesh(np.array(vals), cmap=cmap, norm=norm, edgecolors="#8A9AA5", linewidth=.4)
    ax.invert_yaxis()
    ax.set_xticks([])
    ax.set_yticks([.5, 1.5])
    ax.yaxis.tick_right()
    ax.set_yticklabels(c_rows, fontsize=3.7, color="#222222")
    ax.tick_params(axis="y", length=0, pad=1.5)
    for s in ax.spines.values():
        s.set_visible(False)
    a = axes_px(518.7, t, 523.7, b)
    a.pcolormesh(np.array([[k], [k]]), cmap=c_ann, vmin=0, vmax=1, edgecolors="white", linewidth=.3)
    a.set_xticks([])
    a.set_yticks([])
    for s in a.spines.values():
        s.set_visible(False)
    if k == 1:
        ax.set_xticks([.5, 1.5, 2.5, 3.5])
        ax.set_xticklabels(c_cols, rotation=-90, fontsize=3.5, color="#222222", ha="center", va="top")
        ax.tick_params(axis="x", length=0, pad=2)
        a.set_xticks([.5])
        a.set_xticklabels(["pvalue"], rotation=-90, fontsize=3.5, fontweight="bold", ha="center", va="top")
        a.tick_params(axis="x", length=0, pad=2)

cax = axes_px(608, 225, 613, 300)
cb = fig.colorbar(ScalarMappable(norm=norm, cmap=cmap), cax=cax, ticks=[.2, .4, .6, .8, 1])
cb.set_ticklabels(["0.2", "0.4", "0.6", "0.8", "1"])
cb.ax.tick_params(length=0, labelsize=3.6, pad=1.5)
cb.outline.set_visible(False)
fig.text(623 / W, 1 - 227 / H, "pvalue", fontsize=3.6, fontweight="bold", va="center")
for y0, col, lab in [(230.7, "#D9D9D9", "Nominal p value"), (237.4, "#5C1A05", "Bonferroni corrected")]:
    fig.add_artist(Rectangle((623.3 / W, 1 - (y0 + 6.6) / H), 6.6 / W, 6.6 / H, facecolor=col, edgecolor="none",
                             transform=fig.transFigure))
    fig.text(631 / W, 1 - (y0 + 3.3) / H, lab, fontsize=3.3, va="center", color="#222222")

# panel D
for i in range(8):
    ax = axes_px(d_left[i], d_top[i], d_right[i], d_bottom[i])
    boxes(ax, [stat(d_high[i])], [1], RED, .75, lw=.9, whisker="#5A5A5A")
    boxes(ax, [stat(d_low[i])], [2], BLUE, .75, lw=.9, whisker="#5A5A5A")
    ax.set_xlim(.4, 2.6)
    ax.set_ylim(*d_ylim[i])
    ax.set_xticks([1, 2])
    ax.set_xticklabels(["High risk", "Low risk"], fontsize=5.4, color=GREY_TXT)
    ax.set_yticks(d_yticks[i])
    if d_ylabels[i]:
        ax.set_yticklabels(d_ylabels[i])
    ax.tick_params(axis="y", labelsize=4.7, labelcolor=GREY_TXT, length=1.5, width=.5, pad=1)
    ax.tick_params(axis="x", length=0, pad=1.5)
    ax.set_ylabel("Drug sensitivity", fontsize=5, color="#333333", labelpad=1.5)
    ax.spines["top"].set_visible(False)
    ax.spines["right"].set_visible(False)
    ax.spines["left"].set_color("#333333")
    ax.spines["bottom"].set_color("#333333")
    ax.spines["left"].set_linewidth(.8)
    ax.spines["bottom"].set_linewidth(.8)
    ax.set_title(drugs[i], fontsize=5.4, pad=3.5, color="#222222")
    ax.text(1.5, d_ylim[i][1], "****", fontsize=4.6, ha="center", va="center", color="#333333", clip_on=False)

fig.savefig("out.png", dpi=100)
